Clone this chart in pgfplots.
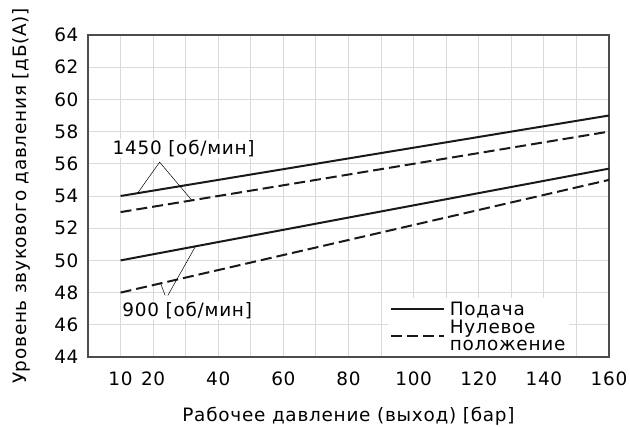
\documentclass[border=0pt]{standalone}
\usepackage{fontspec}
\setmainfont{DejaVu Sans}[LetterSpace=4]
\usepackage{pgfplots}
\pgfplotsset{compat=1.18}
\begin{document}
\begin{tikzpicture}[font=\fontsize{18.5}{21}\selectfont]
\begin{axis}[
  name=ax,
  scale only axis, width=521bp, height=322bp,
  xmin=0, xmax=160, ymin=44, ymax=64,
  xtick={10,20,40,60,80,100,120,140,160},
  minor xtick={30,50,70,90,110,130,150},
  ytick={44,46,...,64},
  grid=both,
  major grid style={draw=black!15, line width=0.9bp},
  minor grid style={draw=black!15, line width=0.9bp},
  tick style={draw=none},
  axis line style={draw=black!70, line width=1.3bp},
  /pgf/number format/assume math mode=true,
  xticklabel style={yshift=-11bp},
  yticklabel style={xshift=-6bp},
  xlabel={Рабочее давление (выход) [бар]},
  ylabel={Уровень звукового давления [дБ(A)]},
  xlabel style={yshift=-15bp},
  ylabel style={yshift=17bp},
  legend style={at={(rel axis cs:0.575,0.004)}, anchor=south west, draw=none, fill=white,
    inner sep=2bp, row sep=-1bp, cells={align=left}},
  legend cell align=left,
  legend image code/.code={\draw[#1] (0bp,0bp) -- (53bp,0bp); \path (56bp,0bp);},
]
\addplot[black!90, line width=2bp] coordinates {(10,54) (160,59)};
\addlegendentry{Подача}
\addplot[black!90, line width=2bp, dash pattern=on 11bp off 5bp] coordinates {(10,53) (160,58)};
\addlegendentry{Нулевое\\[-4bp]положение}
\addplot[black!90, line width=2bp, forget plot] coordinates {(10,50) (160,55.7)};
\addplot[black!90, line width=2bp, dash pattern=on 11bp off 5bp, forget plot] coordinates {(10,48) (160,55)};
\node[anchor=west, fill=white, inner sep=1bp] at (axis cs:7.2,56.97) {1450 [об/мин]};
\node[anchor=west, fill=white, inner sep=1bp] at (axis cs:10.2,46.89) {900 [об/мин]};
\draw[black, line width=0.5bp] (axis cs:15.2,54.17) -- (axis cs:22,56.1) -- (axis cs:31.9,53.73);
\draw[black, line width=0.5bp] (axis cs:22.3,48.57) -- (axis cs:23.7,47.82);
\draw[black, line width=0.5bp] (axis cs:24.5,47.82) -- (axis cs:33,50.87);
\end{axis}
\pgfresetboundingbox
\path[use as bounding box] ([xshift=-88bp,yshift=-70bp]ax.south west) rectangle ([xshift=21bp,yshift=35bp]ax.north east);
\end{tikzpicture}
\end{document}
